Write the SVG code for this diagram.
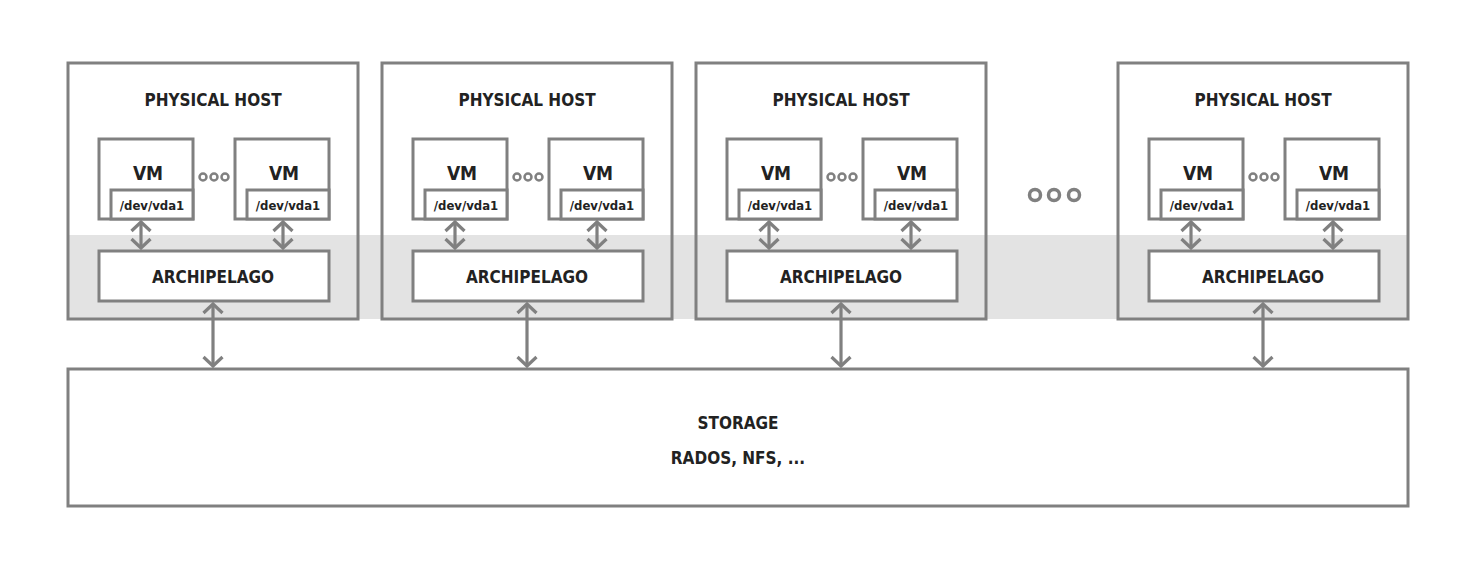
<svg xmlns="http://www.w3.org/2000/svg" width="1478" height="572" viewBox="0 0 1478 572">
<defs>
<style>
.box{fill:none;stroke:#808080;stroke-width:3}
.wbox{fill:#fff;stroke:#808080;stroke-width:3}
.conn{stroke:#808080;stroke-width:3.2;fill:none}
.t{font-family:"DejaVu Sans",sans-serif;font-stretch:condensed;font-weight:bold;fill:#222;text-anchor:middle}
.h{font-size:17px}
.vm{font-size:19px}
.dev{font-size:13px}
.dot{fill:none;stroke:#808080;stroke-width:2.5}
.bdot{fill:none;stroke:#808080;stroke-width:3.5}
</style>
<marker id="ah" viewBox="0 0 14 22" refX="11" refY="11" markerWidth="14" markerHeight="22" markerUnits="userSpaceOnUse" orient="auto-start-reverse">
<path d="M2,1.5 L11,11 L2,20.5" fill="none" stroke="#808080" stroke-width="3.2"/>
</marker>
</defs>
<rect width="1478" height="572" fill="#fff"/>
<!-- host backgrounds -->
<rect x="68" y="63" width="290" height="257" fill="#fff"/>
<rect x="382" y="63" width="290" height="257" fill="#fff"/>
<rect x="696" y="63" width="290" height="257" fill="#fff"/>
<rect x="1118" y="63" width="290" height="257" fill="#fff"/>
<!-- band -->
<rect id="band" x="68" y="235" width="1340" height="84" fill="#e3e3e3"/>

<g id="host1">
<rect class="box" x="68" y="63" width="290" height="256"/>
<text class="t h" x="213" y="106">PHYSICAL HOST</text>
<g id="host1-vm1"><rect class="wbox" x="99" y="139" width="94" height="80"/><rect class="wbox" x="111" y="190" width="82" height="29"/><text class="t vm" x="148" y="180">VM</text><text class="t dev" x="152" y="210">/dev/vda1</text></g>
<g id="host1-vm2"><rect class="wbox" x="235" y="139" width="94" height="80"/><rect class="wbox" x="247" y="190" width="82" height="29"/><text class="t vm" x="284" y="180">VM</text><text class="t dev" x="288" y="210">/dev/vda1</text></g>
<g id="host1-dots"><circle class="dot" cx="203" cy="177" r="3.5"/><circle class="dot" cx="214" cy="177" r="3.5"/><circle class="dot" cx="225" cy="177" r="3.5"/></g>
<g id="host1-archi"><rect class="wbox" x="99" y="251" width="230" height="50"/><text class="t h" x="213" y="283">ARCHIPELAGO</text></g>
</g>

<g id="host2">
<rect class="box" x="382" y="63" width="290" height="256"/>
<text class="t h" x="527" y="106">PHYSICAL HOST</text>
<g id="host2-vm1"><rect class="wbox" x="413" y="139" width="94" height="80"/><rect class="wbox" x="425" y="190" width="82" height="29"/><text class="t vm" x="462" y="180">VM</text><text class="t dev" x="466" y="210">/dev/vda1</text></g>
<g id="host2-vm2"><rect class="wbox" x="549" y="139" width="94" height="80"/><rect class="wbox" x="561" y="190" width="82" height="29"/><text class="t vm" x="598" y="180">VM</text><text class="t dev" x="602" y="210">/dev/vda1</text></g>
<g id="host2-dots"><circle class="dot" cx="517" cy="177" r="3.5"/><circle class="dot" cx="528" cy="177" r="3.5"/><circle class="dot" cx="539" cy="177" r="3.5"/></g>
<g id="host2-archi"><rect class="wbox" x="413" y="251" width="230" height="50"/><text class="t h" x="527" y="283">ARCHIPELAGO</text></g>
</g>

<g id="host3">
<rect class="box" x="696" y="63" width="290" height="256"/>
<text class="t h" x="841" y="106">PHYSICAL HOST</text>
<g id="host3-vm1"><rect class="wbox" x="727" y="139" width="94" height="80"/><rect class="wbox" x="739" y="190" width="82" height="29"/><text class="t vm" x="776" y="180">VM</text><text class="t dev" x="780" y="210">/dev/vda1</text></g>
<g id="host3-vm2"><rect class="wbox" x="863" y="139" width="94" height="80"/><rect class="wbox" x="875" y="190" width="82" height="29"/><text class="t vm" x="912" y="180">VM</text><text class="t dev" x="916" y="210">/dev/vda1</text></g>
<g id="host3-dots"><circle class="dot" cx="831" cy="177" r="3.5"/><circle class="dot" cx="842" cy="177" r="3.5"/><circle class="dot" cx="853" cy="177" r="3.5"/></g>
<g id="host3-archi"><rect class="wbox" x="727" y="251" width="230" height="50"/><text class="t h" x="841" y="283">ARCHIPELAGO</text></g>
</g>

<g id="host4">
<rect class="box" x="1118" y="63" width="290" height="256"/>
<text class="t h" x="1263" y="106">PHYSICAL HOST</text>
<g id="host4-vm1"><rect class="wbox" x="1149" y="139" width="94" height="80"/><rect class="wbox" x="1161" y="190" width="82" height="29"/><text class="t vm" x="1198" y="180">VM</text><text class="t dev" x="1202" y="210">/dev/vda1</text></g>
<g id="host4-vm2"><rect class="wbox" x="1285" y="139" width="94" height="80"/><rect class="wbox" x="1297" y="190" width="82" height="29"/><text class="t vm" x="1334" y="180">VM</text><text class="t dev" x="1338" y="210">/dev/vda1</text></g>
<g id="host4-dots"><circle class="dot" cx="1253" cy="177" r="3.5"/><circle class="dot" cx="1264" cy="177" r="3.5"/><circle class="dot" cx="1275" cy="177" r="3.5"/></g>
<g id="host4-archi"><rect class="wbox" x="1149" y="251" width="230" height="50"/><text class="t h" x="1263" y="283">ARCHIPELAGO</text></g>
</g>

<g id="more-hosts"><circle class="bdot" cx="1035" cy="195" r="5.5"/><circle class="bdot" cx="1054" cy="195" r="5.5"/><circle class="bdot" cx="1074" cy="195" r="5.5"/></g>

<g id="storage">
<rect class="wbox" x="68" y="369" width="1340" height="137"/>
<text class="t h" x="738" y="429">STORAGE</text>
<text class="t h" x="738" y="464">RADOS, NFS, ...</text>
</g>

<g id="connectors">
<line class="conn" x1="141" y1="222" x2="141" y2="248" marker-start="url(#ah)" marker-end="url(#ah)"/>
<line class="conn" x1="283" y1="222" x2="283" y2="248" marker-start="url(#ah)" marker-end="url(#ah)"/>
<line class="conn" x1="455" y1="222" x2="455" y2="248" marker-start="url(#ah)" marker-end="url(#ah)"/>
<line class="conn" x1="597" y1="222" x2="597" y2="248" marker-start="url(#ah)" marker-end="url(#ah)"/>
<line class="conn" x1="769" y1="222" x2="769" y2="248" marker-start="url(#ah)" marker-end="url(#ah)"/>
<line class="conn" x1="911" y1="222" x2="911" y2="248" marker-start="url(#ah)" marker-end="url(#ah)"/>
<line class="conn" x1="1191" y1="222" x2="1191" y2="248" marker-start="url(#ah)" marker-end="url(#ah)"/>
<line class="conn" x1="1333" y1="222" x2="1333" y2="248" marker-start="url(#ah)" marker-end="url(#ah)"/>
<line class="conn" x1="213" y1="304" x2="213" y2="366" marker-start="url(#ah)" marker-end="url(#ah)"/>
<line class="conn" x1="527" y1="304" x2="527" y2="366" marker-start="url(#ah)" marker-end="url(#ah)"/>
<line class="conn" x1="841" y1="304" x2="841" y2="366" marker-start="url(#ah)" marker-end="url(#ah)"/>
<line class="conn" x1="1263" y1="304" x2="1263" y2="366" marker-start="url(#ah)" marker-end="url(#ah)"/>
</g>
</svg>
